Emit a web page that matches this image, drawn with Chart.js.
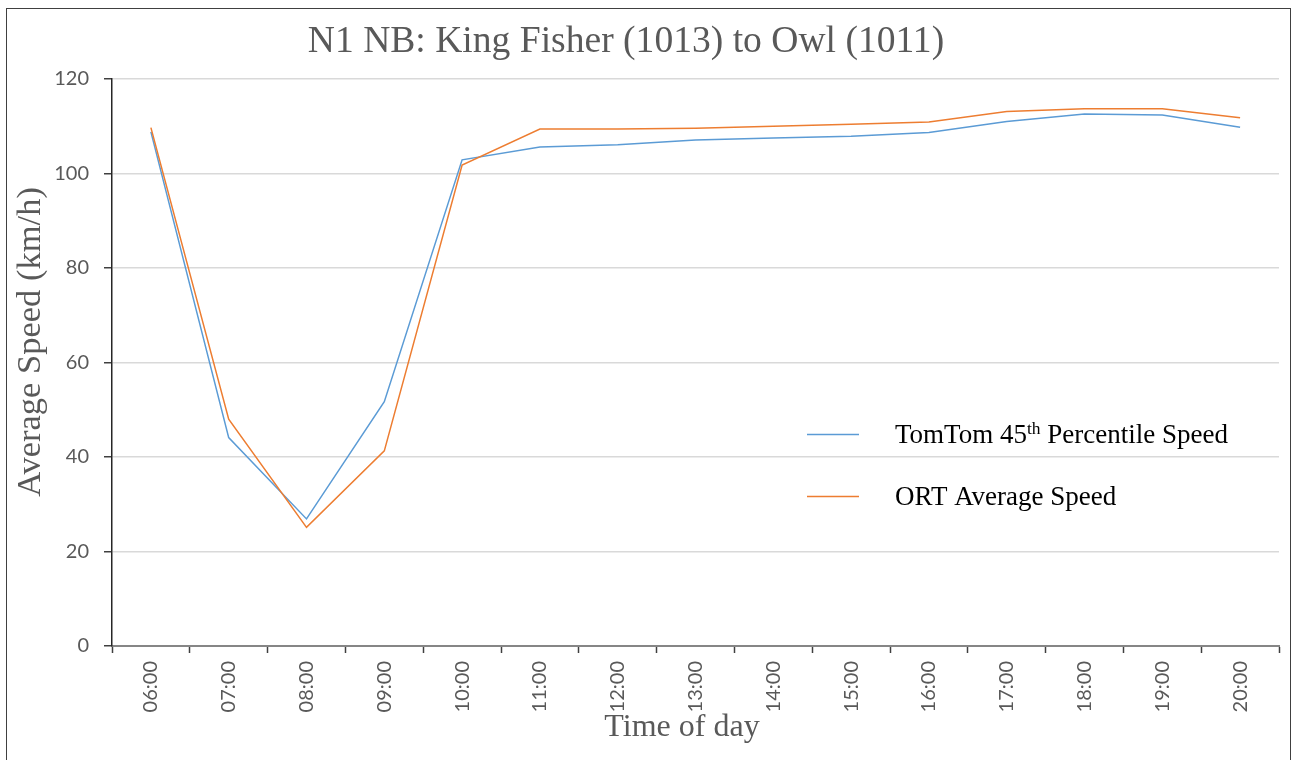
<!DOCTYPE html>
<html>
<head>
<meta charset="utf-8">
<title>N1 NB speeds</title>
<script src="https://cdn.jsdelivr.net/npm/chart.js@4.4.1/dist/chart.umd.min.js"></script>
<style>
  html, body { margin: 0; padding: 0; background: #fff; }
  canvas { display: block; }
</style>
</head>
<body>
<canvas id="speedChart" width="1292" height="760"></canvas>
<script>
// hours along the x axis
var hours = ["06:00", "07:00", "08:00", "09:00", "10:00", "11:00", "12:00", "13:00",
    "14:00", "15:00", "16:00", "17:00", "18:00", "19:00", "20:00"];

// km/h per hour
var tomtomSpeed = [108.8, 44.1, 26.9, 51.7, 102.9, 105.6, 106.1, 107.1, 107.5, 107.9, 108.7, 111.0, 112.6, 112.4, 109.8];
var ortSpeed = [109.7, 48.0, 25.1, 41.3, 101.8, 109.4, 109.4, 109.6, 110.0, 110.4, 110.9, 113.1, 113.7, 113.7, 111.8];

var yTicks = [0, 20, 40, 60, 80, 100, 120];

var BLUE = "#5B9BD5";
var ORANGE = "#ED7D31";
var GREY_TEXT = "#595959";
var SERIF = "'Liberation Serif', 'Times New Roman', serif";
var SANS = "Lato, 'Open Sans', sans-serif";

// outer frame + white background
var framePlugin = {
    id: "frame",
    beforeDraw: function(chart) {
        var ctx = chart.ctx;
        ctx.save();
        ctx.fillStyle = "#fff";
        ctx.fillRect(0, 0, chart.width, chart.height);
        ctx.strokeStyle = "#404040";
        ctx.lineWidth = 1;
        ctx.strokeRect(6.5, 8.5, 1284, 800);
        ctx.restore();
    }
};

// chart title and both axis titles sit off-centre from the plot, so place them by hand
var titlesPlugin = {
    id: "titles",
    afterDraw: function(chart) {
        var ctx = chart.ctx;
        ctx.save();
        ctx.fillStyle = GREY_TEXT;
        ctx.textAlign = "center";
        ctx.textBaseline = "middle";

        ctx.font = "37.6px " + SERIF;
        ctx.fillText("N1 NB: King Fisher (1013) to Owl (1011)", 626, 42);

        ctx.font = "32px " + SERIF;
        ctx.fillText("Time of day", 682, 728);

        ctx.translate(31, 342);
        ctx.rotate(-Math.PI / 2);
        ctx.font = "34.5px " + SERIF;
        ctx.fillText("Average Speed (km/h)", 0, 0);
        ctx.restore();
    }
};

// legend inside the plot, with a superscript "th"
var legendPlugin = {
    id: "insideLegend",
    afterDraw: function(chart) {
        var ctx = chart.ctx;
        var items = [
            { color: BLUE, y: 434.5, parts: [["TomTom 45", 0], ["th", 1], [" Percentile Speed", 0]] },
            { color: ORANGE, y: 496.5, parts: [["ORT Average Speed", 0]] }
        ];
        ctx.save();
        items.forEach(function(item) {
            ctx.strokeStyle = item.color;
            ctx.lineWidth = 1.5;
            ctx.beginPath();
            ctx.moveTo(807, item.y);
            ctx.lineTo(859, item.y);
            ctx.stroke();

            var x = 895;
            var base = item.y + 8;
            ctx.fillStyle = "#000";
            ctx.textBaseline = "alphabetic";
            ctx.textAlign = "left";
            item.parts.forEach(function(p) {
                if (p[1]) {
                    ctx.font = "17.5px " + SERIF;
                    ctx.fillText(p[0], x, base - 9);
                } else {
                    ctx.font = "27px " + SERIF;
                    ctx.fillText(p[0], x, base);
                }
                x += ctx.measureText(p[0]).width;
            });
        });
        ctx.restore();
    }
};

var ctx = document.getElementById("speedChart").getContext("2d");
var chart = new Chart(ctx, {
    type: "line",
    data: {
        labels: hours,
        datasets: [{
            label: "TomTom 45th Percentile Speed",
            data: tomtomSpeed,
            borderColor: BLUE,
            borderWidth: 1.5,
            pointRadius: 0,
            tension: 0,
            fill: false,
            order: 1
        },
        {
            label: "ORT Average Speed",
            data: ortSpeed,
            borderColor: ORANGE,
            borderWidth: 1.5,
            pointRadius: 0,
            tension: 0,
            fill: false,
            order: 0
        }]
    },
    options: {
        responsive: false,
        animation: false,
        devicePixelRatio: 1,
        layout: {
            padding: { top: 79, left: 6, right: 13, bottom: 0 }
        },
        plugins: {
            legend: { display: false },
            tooltip: { enabled: false },
            title: { display: false }
        },
        scales: {
            x: {
                type: "category",
                offset: true,
                grid: {
                    display: true,
                    drawOnChartArea: false,
                    offset: true,
                    tickLength: 7,
                    tickColor: "#404040",
                    tickWidth: 1.5
                },
                border: { color: "#868686", width: 2 },
                ticks: {
                    autoSkip: false,
                    minRotation: 90,
                    maxRotation: 90,
                    padding: 8,
                    color: GREY_TEXT,
                    font: { family: SANS, size: 20 }
                },
                afterFit: function(scale) { scale.height = 114; }
            },
            y: {
                min: yTicks[0],
                max: yTicks[yTicks.length - 1],
                afterBuildTicks: function(scale) {
                    scale.ticks = yTicks.map(function(v) { return { value: v }; });
                },
                grid: {
                    color: "#d9d9d9",
                    lineWidth: 1.5,
                    tickLength: 8,
                    tickColor: "#404040"
                },
                border: { color: "#262626", width: 1.5 },
                ticks: {
                    padding: 15,
                    color: GREY_TEXT,
                    font: { family: SANS, size: 20 }
                },
                afterFit: function(scale) { scale.width = 106; }
            }
        }
    },
    plugins: [framePlugin, titlesPlugin, legendPlugin]
});
</script>
</body>
</html>
